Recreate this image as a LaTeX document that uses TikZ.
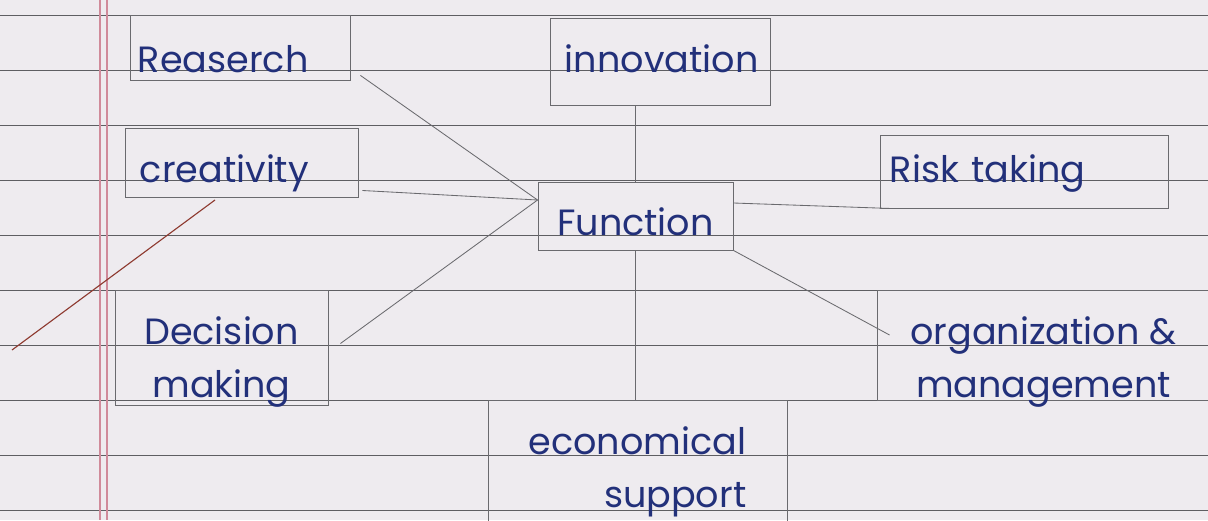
\documentclass[tikz,border=0pt]{standalone}
\usepackage{fontspec}
\setmainfont{Poppins}
\usetikzlibrary{calc,positioning}
\definecolor{paper}{HTML}{EEEBEF}
\definecolor{rulegrey}{HTML}{5E5E62}
\definecolor{marginred}{HTML}{D08A9A}
\definecolor{pencil}{HTML}{6A6A6E}
\definecolor{ink}{HTML}{22307A}
\definecolor{redpen}{HTML}{8E3A30}
\tikzset{
  pagerule/.style   = {draw=rulegrey, line width=0.7pt},
  marginrule/.style = {draw=marginred, line width=0.8pt},
  topic/.style      = {draw=pencil, line width=0.6pt, text=ink,
                       font=\fontsize{26}{37}\selectfont, inner sep=0pt},
  link/.style       = {draw=pencil, line width=0.6pt},
}
\begin{document}
\begin{tikzpicture}[x=0.025cm, y=-0.025cm]

  % ---------- ruled page --------------------------------------------
  \fill[paper] (0,0) rectangle (1208,520);
  \useasboundingbox (0,0) rectangle (1208,520);
  \foreach \yy in {15,70,...,510}
    \draw[pagerule] (0,\yy) -- (1208,\yy);
  \draw[marginrule] (100,0) -- (100,520);
  \draw[marginrule] (107,0) -- (107,520);

  % ---------- topics ------------------------------------------------
  \node[topic, align=left, text width=5.1cm, inner xsep=0.2cm,
        minimum height=1.625cm, text height=1.3cm, text depth=0.075cm]
    (research) at (240,47.5) {Reaserch};
  \node[topic, align=left, text width=4.75cm, inner xsep=0.375cm,
        minimum height=2.175cm, text height=0.6cm, text depth=0.075cm]
    (innovation) at (660,61.5) {innovation};
  \node[topic, align=left, text width=5.075cm, inner xsep=0.375cm,
        minimum height=1.725cm, text height=1.0cm, text depth=0.025cm]
    (creativity) at (241.5,162.5) {creativity};
  \node[topic, minimum width=4.875cm, minimum height=1.7cm,
        text height=1.0cm, text depth=0.05cm]
    (function) at (635.5,216) {Function};
  \node[topic, align=left, text width=6.7cm, inner xsep=0.25cm,
        minimum height=1.825cm, text height=0.65cm, text depth=0.125cm]
    (risk) at (1024,171.5) {Risk taking};
  \node[topic, align=center, minimum width=5.325cm, minimum height=2.875cm,
        text height=2.6cm, text depth=0.125cm]
    (decision) at (221.5,347.5) {Decision\\ making};
  \node[topic, align=center, minimum width=8.325cm, minimum height=2.75cm,
        text height=2.65cm, text depth=0.05cm]
    (organization) at (1043.5,345) {organization \&\\ management};
  \node[topic, align=right, minimum width=7.475cm, minimum height=4.0cm,
        text height=1.5cm, text depth=0.15cm]
    (economical) at (637.5,480) {economical\\ support};

  % helper point on the left side of the centre box
  \coordinate (fW) at ([shift={(0,-16)}]function.west);

  % ---------- connectors --------------------------------------------
  \draw[link] ([shift={(10,-5)}]research.south east) -- (fW);
  \draw[link] ([shift={(4,28)}]creativity.east) -- (fW);
  \draw[link] ([shift={(12,-4)}]decision.east) -- (fW);
  \draw[link] (function.north) -- (function.north |- innovation.south);
  \draw[link] (function.south) -- (function.south |- economical.north);
  \draw[link] ([shift={(0,-13)}]function.east) -- ([shift={(10,0)}]risk.south west);
  \draw[link] (function.south east) -- ([shift={(13,-10)}]organization.west);

  % stray pen stroke
  \draw[redpen, line width=0.8pt] (12,350) -- (215,200);

\end{tikzpicture}
\end{document}
